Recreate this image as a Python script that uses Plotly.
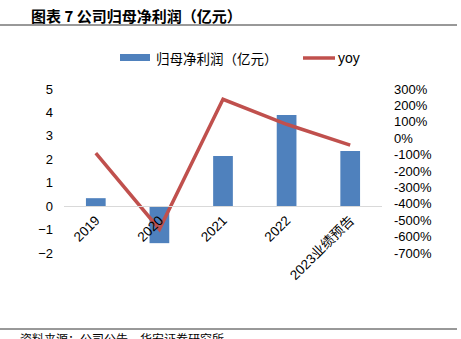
import plotly.graph_objects as go

categories = ["2019", "2020", "2021", "2022", "2023业绩预告"]
net_profit = [0.34, -1.58, 2.14, 3.89, 2.35]          # 归母净利润（亿元）
yoy = [-0.91, -5.55, 2.37, 0.85, -0.42]                # 同比增速
left_ticks = [5, 4, 3, 2, 1, 0, -1, -2]
right_ticks = [3, 2, 1, 0, -1, -2, -3, -4, -5, -6, -7]

BAR = "#4F81BD"
LINE = "#C0504D"
W, H = 461, 339
L, R, T, B = 64, 79, 89, 86
pw, ph = W - L - R, H - T - B


def px(x):
    return (x - L) / pw


def py(y):
    return (H - B - y) / ph


fig = go.Figure()
fig.add_trace(go.Bar(x=categories, y=net_profit, marker_color=BAR,
                     marker_line_width=0, width=0.31, yaxis="y",
                     name="归母净利润（亿元）"))
fig.add_trace(go.Scatter(x=categories, y=yoy, mode="lines",
                         line=dict(color=LINE, width=3.5), yaxis="y2",
                         name="yoy"))

zero_pos = (0 - (-2)) / (5 - (-2))
tick_font = dict(family="Liberation Sans, Noto Sans CJK SC, sans-serif", size=13, color="#000")
xtick_font = dict(family="Liberation Sans, Noto Sans CJK SC, sans-serif", size=13.5, color="#000")

fig.update_layout(
    width=W, height=H,
    margin=dict(l=L, r=R, t=T, b=B),
    paper_bgcolor="white", plot_bgcolor="white",
    showlegend=False,
    xaxis=dict(anchor="free", position=zero_pos, showline=True,
               linecolor="#d9d9d9", linewidth=1, ticks="", showgrid=False,
               tickangle=-45, tickfont=xtick_font, zeroline=False),
    yaxis=dict(range=[-2, 5], tickvals=left_ticks, showgrid=False,
               zeroline=False, showline=False, ticks="",
               tickfont=tick_font, ticklabelstandoff=10),
    yaxis2=dict(range=[-7, 3], tickvals=right_ticks,
                ticktext=[f"{v*100:.0f}%" for v in right_ticks],
                overlaying="y", side="right", showgrid=False, zeroline=False,
                showline=False, ticks="", tickfont=tick_font,
                ticklabelstandoff=11),
)

cjk = "Noto Sans CJK SC, sans-serif"
shapes = [
    dict(type="line", xref="paper", yref="paper", x0=px(0), x1=px(457),
         y0=py(25), y1=py(25), line=dict(color="#333", width=1)),
    dict(type="line", xref="paper", yref="paper", x0=px(0), x1=px(457),
         y0=py(329), y1=py(329), line=dict(color="#333", width=1)),
    dict(type="rect", xref="paper", yref="paper", x0=px(120), x1=px(150),
         y0=py(61), y1=py(54), fillcolor=BAR, line_width=0),
    dict(type="line", xref="paper", yref="paper", x0=px(303), x1=px(335),
         y0=py(58), y1=py(58), line=dict(color=LINE, width=3.5)),
]
annotations = [
    dict(text="<b>图表 7 公司归母净利润（亿元）</b>", xref="paper", yref="paper",
         x=px(29), y=py(15), xanchor="left", yanchor="middle", showarrow=False,
         font=dict(family=cjk, size=15, color="#000")),
    dict(text="归母净利润（亿元）", xref="paper", yref="paper",
         x=px(154), y=py(58), xanchor="left", yanchor="middle", showarrow=False,
         font=dict(family=cjk, size=13.5, color="#000")),
    dict(text="yoy", xref="paper", yref="paper",
         x=px(336), y=py(58), xanchor="left", yanchor="middle", showarrow=False,
         font=dict(family="Liberation Sans, Arial, sans-serif", size=14, color="#000")),
    dict(text="资料来源：公司公告，华安证券研究所", xref="paper", yref="paper",
         x=px(18), y=py(338), xanchor="left", yanchor="middle", showarrow=False,
         font=dict(family=cjk, size=12, color="#000")),
]
fig.update_layout(shapes=shapes, annotations=annotations)

fig.write_html("out.html")
